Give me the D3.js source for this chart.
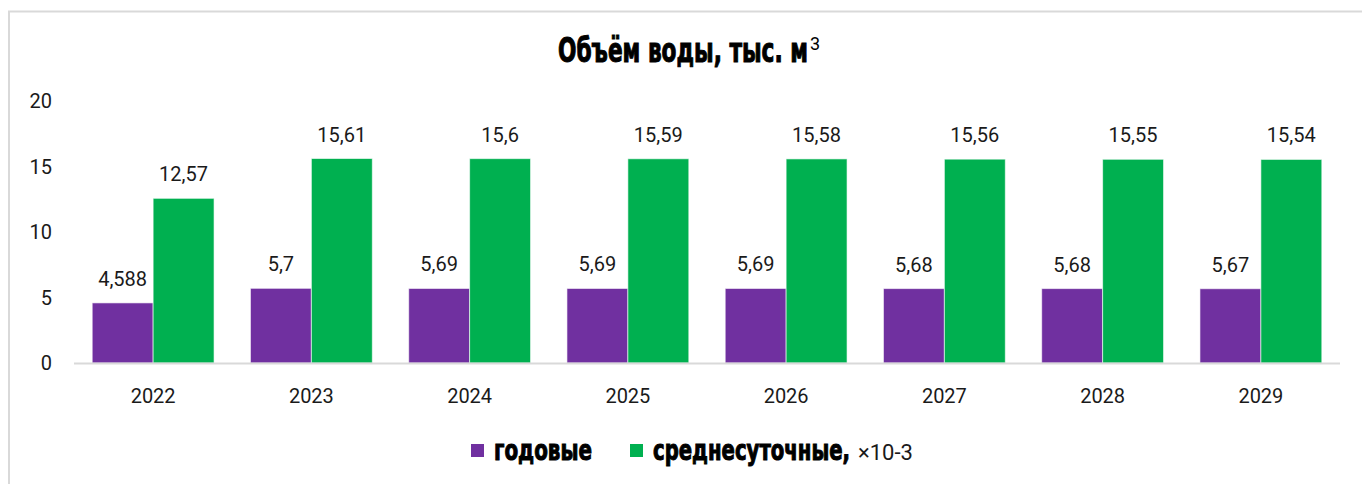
<!DOCTYPE html>
<html>
<head>
<meta charset="utf-8">
<script src="https://cdn.jsdelivr.net/npm/d3@7"></script>
<style>
  body { margin: 0; background: #fff; }
  svg { display: block; }
  .tick-lbl, .bar-lbl, .cat-lbl { font-family: Roboto, "Liberation Sans", sans-serif; font-size: 20px; fill: #1a1a1a; }
  .heavy { font-family: "DejaVu Sans Condensed", "Liberation Sans Narrow", sans-serif; font-weight: bold; fill: #000; stroke: #000; stroke-width: 1px; }
</style>
</head>
<body>
<script>
// chart data
var YEARS = ['2022', '2023', '2024', '2025', '2026', '2027', '2028', '2029'];
var ANNUAL = [4.588, 5.7, 5.69, 5.69, 5.69, 5.68, 5.68, 5.67];
var DAILY = [12.57, 15.61, 15.6, 15.59, 15.58, 15.56, 15.55, 15.54];
var Y_TICKS = [0, 5, 10, 15, 20];
var SERIES = ['годовые', 'среднесуточные'];
var COLORS = ['#7030A0', '#00B050'];

var W = 1362, H = 484;
var svg = d3.select('body').append('svg').attr('width', W).attr('height', H);

// outer frame
svg.append('rect')
  .attr('x', 9).attr('y', 11.5)
  .attr('width', W + 20).attr('height', H + 20)
  .attr('fill', 'none')
  .attr('stroke', '#d9d9d9')
  .attr('stroke-width', 2);

// title
var title = svg.append('text')
  .attr('class', 'heavy')
  .attr('x', 558).attr('y', 62)
  .style('font-size', '34px');
title.append('tspan').text('Объём воды, тыс. м').attr('textLength', 250).attr('lengthAdjust', 'spacingAndGlyphs');
title.append('tspan').text('3')
  .attr('dy', -12)
  .attr('dx', 2)
  .style('font-family', 'Roboto, sans-serif')
  .style('font-weight', 'normal')
  .style('stroke', 'none')
  .style('font-size', '18px');

var plotLeft = 74, plotRight = 1340, plotTop = 101, plotBottom = 363;

var x0 = d3.scaleBand().domain(YEARS).range([plotLeft, plotRight]).paddingInner(0.23).paddingOuter(0.115);
var x1 = d3.scaleBand().domain([0, 1]).range([0, x0.bandwidth()]);
var y = d3.scaleLinear().domain([0, 20]).range([plotBottom, plotTop]);

// y tick labels
svg.selectAll('.tick-lbl')
  .data(Y_TICKS)
  .enter()
  .append('text')
  .attr('class', 'tick-lbl')
  .attr('x', 52)
  .attr('y', function (d) { return y(d) + 7; })
  .attr('text-anchor', 'end')
  .text(function (d) { return d; });

var rows = YEARS.map(function (yr, i) { return {year: yr, values: [ANNUAL[i], DAILY[i]]}; });

var groups = svg.selectAll('.grp')
  .data(rows)
  .enter()
  .append('g')
  .attr('class', 'grp')
  .attr('transform', function (d) { return 'translate(' + x0(d.year) + ',0)'; });

groups.selectAll('rect')
  .data(function (d) { return d.values; })
  .enter()
  .append('rect')
  .attr('x', function (v, i) { return x1(i); })
  .attr('y', function (v) { return y(v); })
  .attr('width', x1.bandwidth())
  .attr('height', function (v) { return plotBottom - y(v); })
  .attr('fill', function (v, i) { return COLORS[i]; })
  .attr('stroke', 'rgba(255,255,255,0.6)')
  .attr('stroke-width', 1);

groups.selectAll('.bar-lbl')
  .data(function (d) { return d.values; })
  .enter()
  .append('text')
  .attr('class', 'bar-lbl')
  .attr('x', function (v, i) { return x1(i) + x1.bandwidth() / 2; })
  .attr('y', function (v) { return y(v) - 17; })
  .attr('text-anchor', 'middle')
  .text(function (v) { return String(v).replace('.', ','); });

// x axis line
svg.append('line')
  .attr('x1', plotLeft).attr('x2', plotRight)
  .attr('y1', plotBottom + 0.5).attr('y2', plotBottom + 0.5)
  .attr('stroke', '#d9d9d9')
  .attr('stroke-width', 2);

svg.selectAll('.cat-lbl')
  .data(YEARS)
  .enter()
  .append('text')
  .attr('class', 'cat-lbl')
  .attr('x', function (d) { return x0(d) + x0.bandwidth() / 2; })
  .attr('y', 403)
  .attr('text-anchor', 'middle')
  .text(function (d) { return d; });

// legend
var legendX = [471, 630];
var legendW = [98, 197];
SERIES.forEach(function (s, i) {
  svg.append('rect')
    .attr('x', legendX[i]).attr('y', 444)
    .attr('width', 13).attr('height', 13)
    .attr('fill', COLORS[i]);
  svg.append('text')
    .attr('class', 'heavy')
    .attr('x', legendX[i] + 23).attr('y', 460)
    .style('font-size', '29px')
    .attr('textLength', legendW[i])
    .attr('lengthAdjust', 'spacingAndGlyphs')
    .text(s + (i === 1 ? ',' : ''));
});
svg.append('text')
  .attr('class', 'tick-lbl')
  .attr('x', 858).attr('y', 460)
  .style('font-size', '22px')
  .text('×10-3');
</script>
</body>
</html>
